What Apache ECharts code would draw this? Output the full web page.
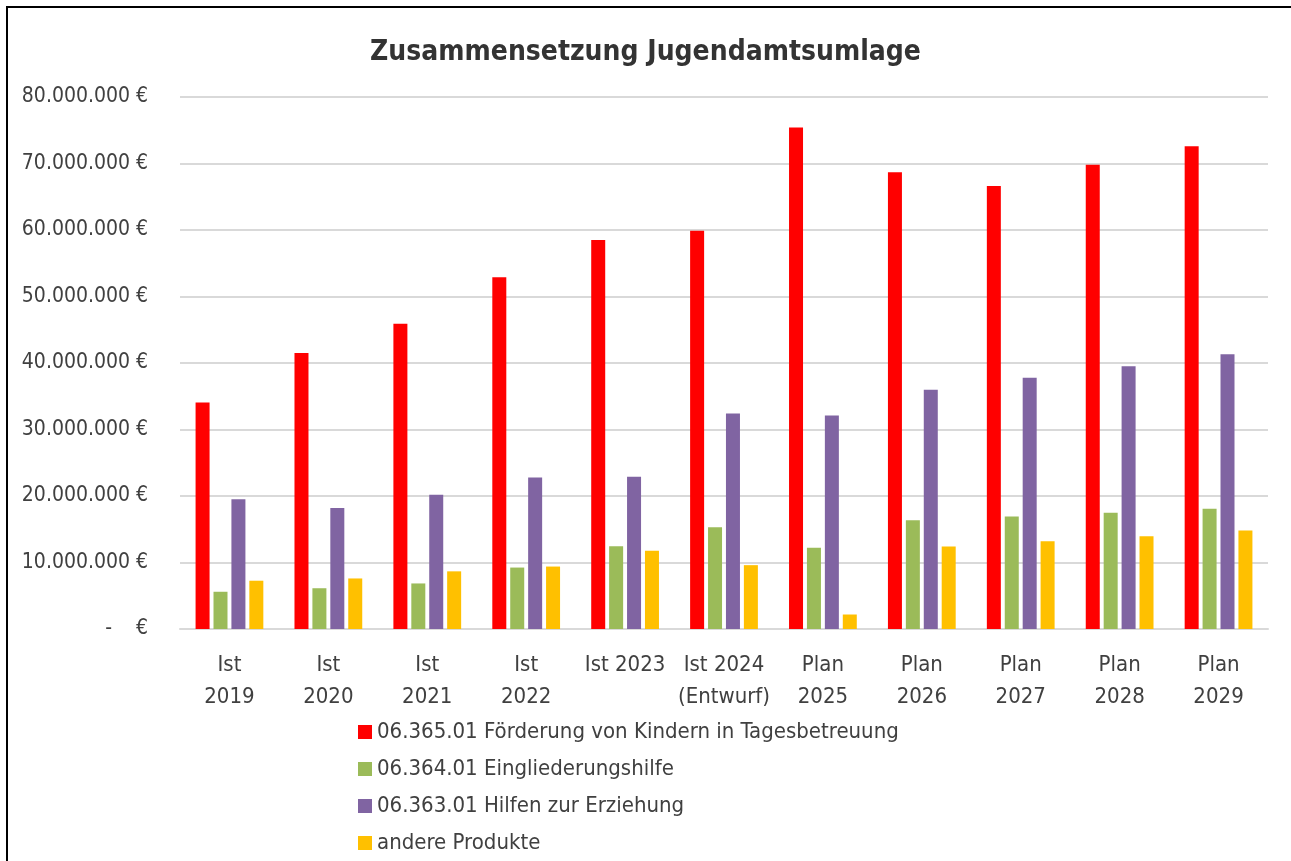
<!DOCTYPE html>
<html lang="de">
<head>
  <meta charset="UTF-8">
  <title>Zusammensetzung Jugendamtsumlage</title>
  <script src="https://cdn.jsdelivr.net/npm/echarts@6/dist/echarts.min.js"></script>
  <style>
    html, body {
      margin: 0;
      padding: 0;
      background: #fff;
    }
    #main {
      width: 1291px;
      height: 861px;
    }
  </style>
</head>
<body>
  <div id="main"></div>
  <script>
    // Kategorien (Jahre)
    var categories = ['Ist\n2019', 'Ist\n2020', 'Ist\n2021', 'Ist\n2022', 'Ist 2023', 'Ist 2024\n(Entwurf)',
      'Plan\n2025', 'Plan\n2026', 'Plan\n2027', 'Plan\n2028', 'Plan\n2029'];

    // Werte in Euro
    var kitaValues = [34050000, 41500000, 45900000, 52900000, 58500000, 59900000, 75400000, 68700000, 66600000, 69800000, 72600000];
    var eingliederungValues = [5600000, 6130000, 6850000, 9240000, 12450000, 15300000, 12200000, 16350000, 16900000, 17500000, 18100000];
    var erziehungValues = [19500000, 18200000, 20200000, 22800000, 22900000, 32400000, 32100000, 35960000, 37800000, 39500000, 41300000];
    var andereValues = [7260000, 7600000, 8670000, 9390000, 11780000, 9600000, 2180000, 12400000, 13200000, 13960000, 14800000];

    var seriesNames = ['06.365.01 Förderung von Kindern in Tagesbetreuung', '06.364.01 Eingliederungshilfe',
      '06.363.01 Hilfen zur Erziehung', 'andere Produkte'];
    var seriesColors = ['#ff0000', '#9bbb59', '#8064a2', '#ffc000'];

    var fontMain = "'DejaVu Sans Condensed', 'Roboto', sans-serif";
    var textColor = '#404040';

    function euro(v) {
      if (v === 0) return '-    €';
      return String(v).replace(/\B(?=(\d{3})+(?!\d))/g, '.') + ' €';
    }

    var allValues = [kitaValues, eingliederungValues, erziehungValues, andereValues];
    var series = allValues.map(function (vals, i) {
      return {
        name: seriesNames[i],
        type: 'bar',
        barWidth: 14,
        barGap: '28%',
        itemStyle: { color: seriesColors[i] },
        data: vals
      };
    });

    var chart = echarts.init(document.getElementById('main'));
    chart.setOption({
      backgroundColor: '#fff',
      animation: false,
      title: {
        text: 'Zusammensetzung Jugendamtsumlage',
        left: 'center',
        top: 34,
        textStyle: {
          fontFamily: fontMain,
          fontWeight: 'bold',
          fontSize: 28,
          color: '#333'
        }
      },
      graphic: [{
        type: 'rect',
        shape: { x: 7, y: 7, width: 1300, height: 900 },
        style: { fill: null, stroke: '#000', lineWidth: 2 },
        silent: true
      }],
      legend: {
        orient: 'vertical',
        left: 358,
        top: 721,
        padding: 0,
        itemWidth: 14,
        itemHeight: 14,
        itemGap: 15,
        icon: 'rect',
        textStyle: {
          fontFamily: fontMain,
          fontSize: 22,
          lineHeight: 22,
          color: textColor
        },
        data: seriesNames
      },
      grid: {
        left: 180,
        right: 23,
        top: 97,
        bottom: 232
      },
      xAxis: {
        type: 'category',
        data: categories,
        axisTick: { show: false },
        axisLine: { lineStyle: { color: '#d9d9d9', width: 2 } },
        axisLabel: {
          interval: 0,
          margin: 20,
          fontFamily: fontMain,
          fontSize: 22,
          lineHeight: 32,
          color: textColor
        }
      },
      yAxis: {
        type: 'value',
        min: 0,
        max: 80000000,
        interval: 10000000,
        axisLine: { show: false },
        axisTick: { show: false },
        splitLine: { lineStyle: { color: '#d9d9d9', width: 2 } },
        axisLabel: {
          margin: 32,
          fontFamily: fontMain,
          fontSize: 21,
          color: textColor,
          formatter: euro
        }
      },
      series: series
    });
  </script>
</body>
</html>
